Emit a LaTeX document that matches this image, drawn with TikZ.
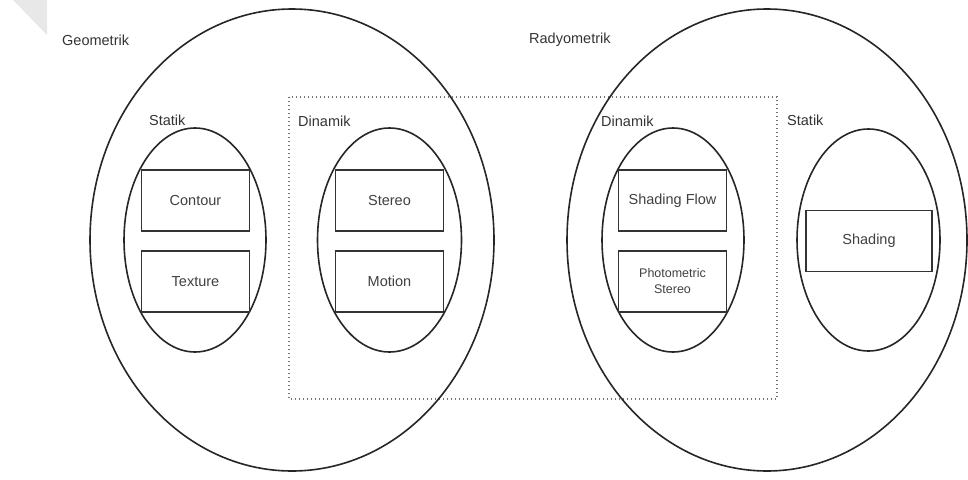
\documentclass[tikz,border=0pt]{standalone}
\usepackage{fontspec}
\setmainfont{Liberation Sans}
\begin{document}
\begin{tikzpicture}[x=1pt,y=-1pt,
  outer/.style={draw=black!85, line width=1.6pt},
  inner/.style={draw=black!85, line width=1.6pt},
  boxnode/.style={draw=black!80, line width=1.6pt, minimum width=108pt, minimum height=61pt, inner sep=0pt, font=\fontsize{14.5}{16}\selectfont, text=black!75, align=center},
  lbl/.style={anchor=west, inner sep=0pt, font=\fontsize{14.5}{16}\selectfont, text=black!80},
  dotbox/.style={draw=black!55, line width=1.2pt, dash pattern=on 1.3pt off 2.7pt}]
\useasboundingbox (0,0) rectangle (968,479);
\fill[black!9] (13,0) -- (47,0) -- (47,35) -- cycle;
% dotted rectangle
\draw[dotbox] (289,97) rectangle (777,399);
% big ellipses
\draw[outer] (292,240) ellipse [x radius=202, y radius=231];
\draw[outer] (767,240) ellipse [x radius=200, y radius=231];
% inner ellipses
\draw[inner] (195,240) ellipse [x radius=71, y radius=112];
\draw[inner] (389.5,240) ellipse [x radius=72, y radius=112];
\draw[inner] (673,240) ellipse [x radius=71, y radius=112];
\draw[inner] (868.5,240) ellipse [x radius=71.5, y radius=111];
% boxes
\node[boxnode] (contour) at (195.5,200.5) {Contour};
\node[boxnode] (texture) at (195.5,281.5) {Texture};
\node[boxnode] (stereo) at (389.5,200.5) {Stereo};
\node[boxnode] (motion) at (389.5,281.5) {Motion};
\node[boxnode] (shflow) at (672.5,200.5) {Shading Flow};
\node[boxnode, font=\fontsize{12.5}{16}\selectfont] (photo) at (672.5,281.5) {Photometric\\Stereo};
\node[boxnode, minimum width=126pt] (shading) at (869,241) {Shading};
% labels
\node[lbl] (geo) at (62,40) {Geometrik};
\node[lbl] (rad) at (529,40) {Radyometrik};
\node[lbl] (st1) at (149,120) {Statik};
\node[lbl] (di1) at (298,121) {Dinamik};
\node[lbl] (di2) at (601,121) {Dinamik};
\node[lbl] (st2) at (787,120) {Statik};
\end{tikzpicture}
\end{document}
